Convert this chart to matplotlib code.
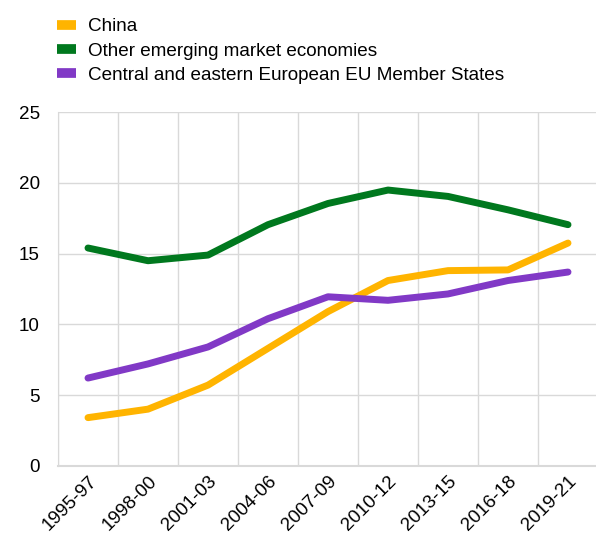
import matplotlib.pyplot as plt

plt.rcParams['font.family'] = ['Liberation Sans', 'DejaVu Sans']

# data
periods = ["1995-97", "1998-00", "2001-03", "2004-06", "2007-09",
           "2010-12", "2013-15", "2016-18", "2019-21"]
china = [3.4, 4.0, 5.7, 8.3, 10.9, 13.1, 13.8, 13.85, 15.75]
other_em = [15.4, 14.5, 14.9, 17.05, 18.55, 19.5, 19.05, 18.1, 17.05]
cee_eu = [6.2, 7.2, 8.4, 10.4, 11.95, 11.7, 12.15, 13.1, 13.7]

series = [
    ("China", china, "#FFB400"),
    ("Other emerging market economies", other_em, "#00781E"),
    ("Central and eastern European EU Member States", cee_eu, "#8139C6"),
]

fig = plt.figure(figsize=(5.96, 5.36), dpi=100)
ax = fig.add_axes([58 / 596, 70.3 / 536, 540 / 596, 353.4 / 536])

x = list(range(len(periods)))
for name, vals, col in series:
    ax.plot(x, vals, color=col, lw=5, label=name, solid_capstyle="round",
            solid_joinstyle="round")

ax.set_xlim(-0.5, len(periods) - 0.5)
ax.set_ylim(0, 25)
ax.set_yticks([0, 5, 10, 15, 20, 25])
ax.set_xticks(x)
ax.set_xticklabels(periods, rotation=45, ha="right", rotation_mode="anchor")
ax.tick_params(length=0, labelsize=13.6, colors="#000000")
ax.tick_params(axis="y", pad=13)
ax.tick_params(axis="x", pad=5)

# grid lines sit between categories
ax.set_xticks([i - 0.5 for i in range(len(periods) + 1)], minor=True)
ax.tick_params(which="minor", length=0)
ax.grid(True, which="minor", axis="x", color="#d9d9d9", lw=1)
ax.grid(True, which="major", axis="y", color="#d9d9d9", lw=1)
ax.set_axisbelow(True)
for s in ["top", "right"]:
    ax.spines[s].set_visible(False)
ax.spines["left"].set_color("#d9d9d9")
ax.spines["bottom"].set_color("#d9d9d9")
ax.spines["bottom"].set_linewidth(1.5)

handles, labels = ax.get_legend_handles_labels()
leg = fig.legend(handles, labels, loc="upper left",
                 bbox_to_anchor=(57 / 596, 1 - 18 / 536), frameon=False,
                 fontsize=13.6, handlelength=1.0, handletextpad=0.63,
                 labelspacing=0.38, borderpad=0, borderaxespad=0)
for h in leg.get_lines():
    h.set_linewidth(7)
    h.set_solid_capstyle("butt")

fig.savefig("out.png", dpi=100)
